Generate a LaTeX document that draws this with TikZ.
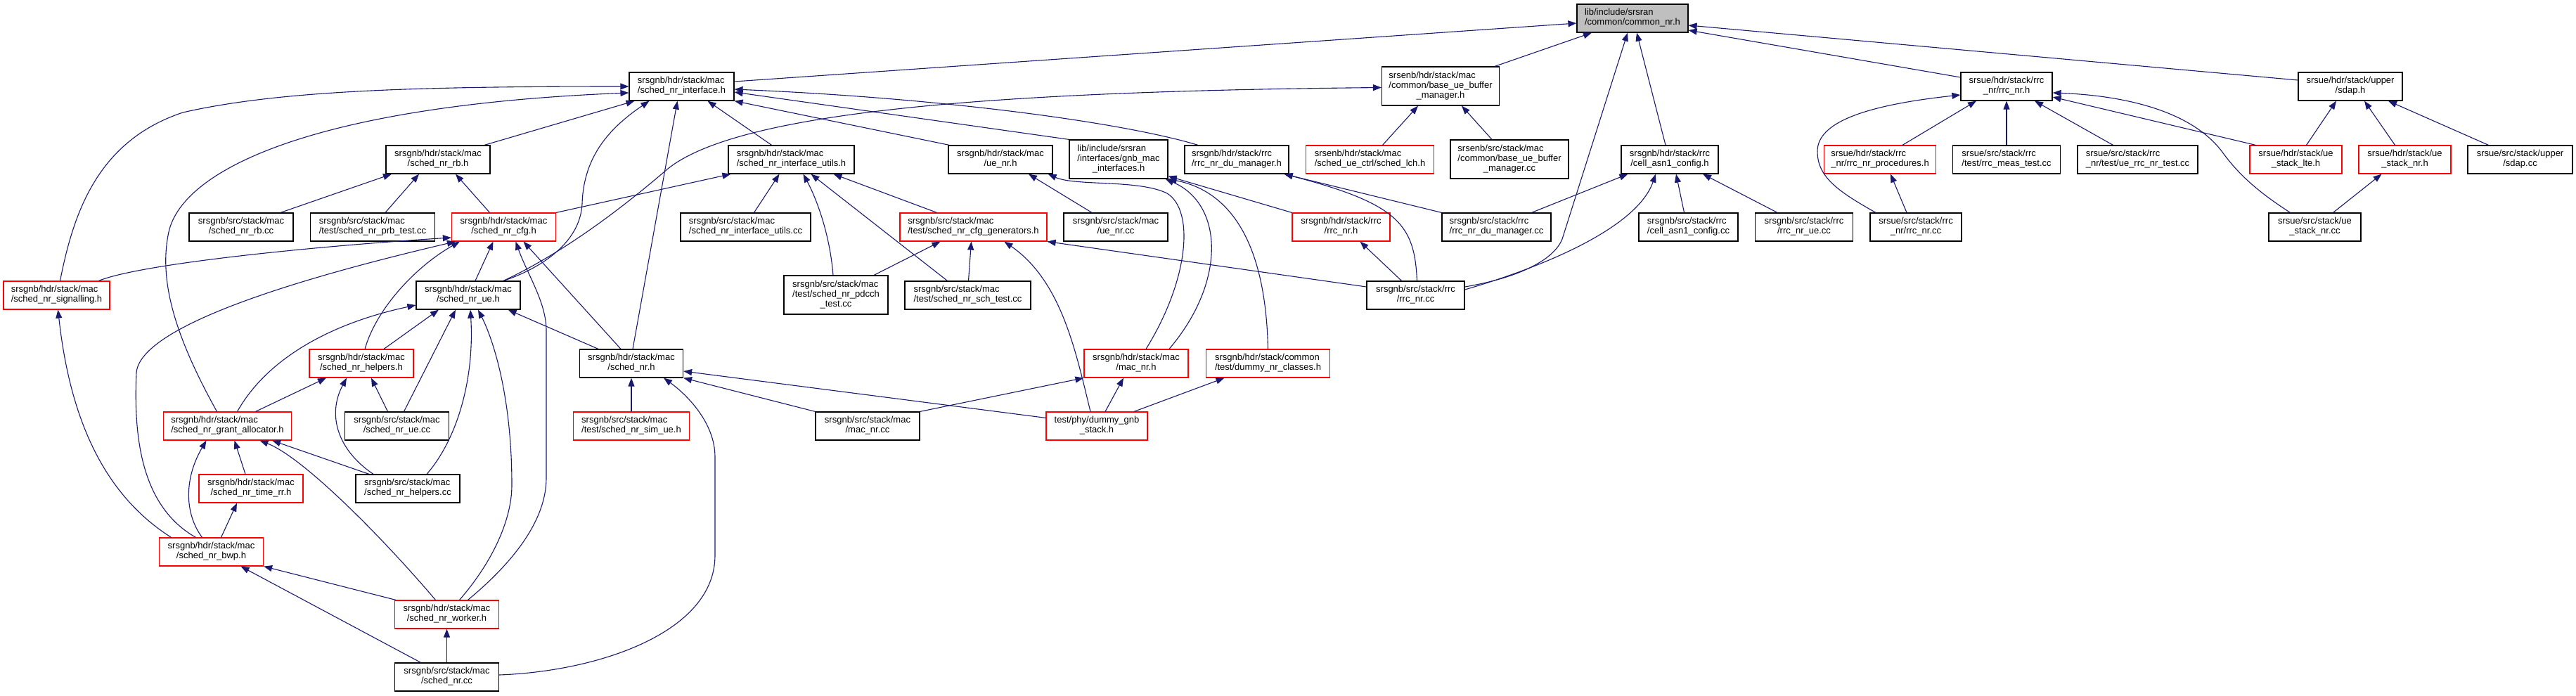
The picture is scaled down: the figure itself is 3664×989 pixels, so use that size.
\documentclass[tikz,border=0pt]{standalone}
\usepackage{fontspec}
\setmainfont{Liberation Sans}
\usetikzlibrary{arrows.meta}
\definecolor{edgec}{HTML}{191970}
\definecolor{rootf}{HTML}{BFBFBF}
\newcommand\twol[2]{\begin{tabular}{@{}l@{}}#1\\\multicolumn{1}{@{}c@{}}{#2}\end{tabular}}
\newcommand\threel[3]{\begin{tabular}{@{}l@{}}#1\\#2\\\multicolumn{1}{@{}c@{}}{#3}\end{tabular}}
\tikzset{
 nb/.style={draw=black, line width=1.2pt, fill=white, inner sep=0pt, minimum height=40pt, font=\fontsize{13}{14}\selectfont},
 nr/.style={nb, draw=red},
 nb3/.style={nb, minimum height=55pt},
 nroot/.style={nb, fill=rootf},
 arr/.style={draw=edgec, line width=1.1pt, -{Triangle[length=12pt,width=9pt]}},
}
\begin{document}
\begin{tikzpicture}[x=1pt,y=-1pt]
\useasboundingbox (0,0) rectangle (3664,989);
% row 0
\node[nroot, minimum width=158pt] (A) at (2322,26) {\twol{lib/include/srsran}{/common/common\_nr.h}};
% row 1
\node[nb, minimum width=149pt] (B) at (969.5,123) {\twol{srsgnb/hdr/stack/mac}{/sched\_nr\_interface.h}};
\node[nb3, minimum width=167pt] (C) at (2049,122.5) {\threel{srsenb/hdr/stack/mac}{/common/base\_ue\_buffer}{\_manager.h}};
\node[nb, minimum width=130pt] (D) at (2854,123) {\twol{srsue/hdr/stack/rrc}{\_nr/rrc\_nr.h}};
\node[nb, minimum width=148pt] (E) at (3343,123) {\twol{srsue/hdr/stack/upper}{/sdap.h}};
% row 2
\node[nb, minimum width=148pt] (F) at (623,227) {\twol{srsgnb/hdr/stack/mac}{/sched\_nr\_rb.h}};
\node[nb, minimum width=179pt] (G) at (1125.5,227) {\twol{srsgnb/hdr/stack/mac}{/sched\_nr\_interface\_utils.h}};
\node[nb, minimum width=148pt] (H) at (1423,227) {\twol{srsgnb/hdr/stack/mac}{/ue\_nr.h}};
\node[nb3, minimum width=140pt] (I) at (1591,226.5) {\threel{lib/include/srsran}{/interfaces/gnb\_mac}{\_interfaces.h}};
\node[nb, minimum width=148pt] (J) at (1759,227) {\twol{srsgnb/hdr/stack/rrc}{/rrc\_nr\_du\_manager.h}};
\node[nr, minimum width=182pt] (K) at (1948.5,227) {\twol{srsenb/hdr/stack/mac}{/sched\_ue\_ctrl/sched\_lch.h}};
\node[nb3, minimum width=168pt] (L) at (2147,226.5) {\threel{srsenb/src/stack/mac}{/common/base\_ue\_buffer}{\_manager.cc}};
\node[nb, minimum width=138pt] (M) at (2375,227) {\twol{srsgnb/hdr/stack/rrc}{/cell\_asn1\_config.h}};
\node[nr, minimum width=159pt] (N) at (2674,227) {\twol{srsue/hdr/stack/rrc}{\_nr/rrc\_nr\_procedures.h}};
\node[nb, minimum width=153pt] (O) at (2854,227) {\twol{srsue/src/stack/rrc}{/test/rrc\_meas\_test.cc}};
\node[nb, minimum width=171pt] (P) at (3040.5,227) {\twol{srsue/src/stack/rrc}{\_nr/test/ue\_rrc\_nr\_test.cc}};
\node[nr, minimum width=131pt] (Q) at (3265.5,227) {\twol{srsue/hdr/stack/ue}{\_stack\_lte.h}};
\node[nr, minimum width=131pt] (R) at (3420.5,227) {\twol{srsue/hdr/stack/ue}{\_stack\_nr.h}};
\node[nb, minimum width=149pt] (S) at (3584.5,227) {\twol{srsue/src/stack/upper}{/sdap.cc}};
% row 3
\node[nb, minimum width=148pt] (T) at (343,323) {\twol{srsgnb/src/stack/mac}{/sched\_nr\_rb.cc}};
\node[nb, minimum width=177pt] (U) at (530,323) {\twol{srsgnb/src/stack/mac}{/test/sched\_nr\_prb\_test.cc}};
\node[nr, minimum width=148pt] (V) at (716.5,323) {\twol{srsgnb/hdr/stack/mac}{/sched\_nr\_cfg.h}};
\node[nb, minimum width=185pt] (W) at (1060.5,323) {\twol{srsgnb/src/stack/mac}{/sched\_nr\_interface\_utils.cc}};
\node[nr, minimum width=209pt] (X) at (1384.5,323) {\twol{srsgnb/src/stack/mac}{/test/sched\_nr\_cfg\_generators.h}};
\node[nb, minimum width=148pt] (Y) at (1587,323) {\twol{srsgnb/src/stack/mac}{/ue\_nr.cc}};
\node[nr, minimum width=139pt] (Z) at (1907.5,323) {\twol{srsgnb/hdr/stack/rrc}{/rrc\_nr.h}};
\node[nb, minimum width=155pt] (AA) at (2128.5,323) {\twol{srsgnb/src/stack/rrc}{/rrc\_nr\_du\_manager.cc}};
\node[nb, minimum width=141pt] (AB) at (2401.5,323) {\twol{srsgnb/src/stack/rrc}{/cell\_asn1\_config.cc}};
\node[nb, minimum width=139pt] (AC) at (2566,323) {\twol{srsgnb/src/stack/rrc}{/rrc\_nr\_ue.cc}};
\node[nb, minimum width=130pt] (AD) at (2725,323) {\twol{srsue/src/stack/rrc}{\_nr/rrc\_nr.cc}};
\node[nb, minimum width=131pt] (AJ) at (3292.5,323) {\twol{srsue/src/stack/ue}{\_stack\_nr.cc}};
% row 4
\node[nr, minimum width=151pt] (AE) at (80.5,420) {\twol{srsgnb/hdr/stack/mac}{/sched\_nr\_signalling.h}};
\node[nb, minimum width=148pt] (AF) at (666,420) {\twol{srsgnb/hdr/stack/mac}{/sched\_nr\_ue.h}};
\node[nb3, minimum width=148pt] (AG) at (1189,419.5) {\threel{srsgnb/src/stack/mac}{/test/sched\_nr\_pdcch}{\_test.cc}};
\node[nb, minimum width=179pt] (AH) at (1376.5,420) {\twol{srsgnb/src/stack/mac}{/test/sched\_nr\_sch\_test.cc}};
\node[nb, minimum width=139pt] (AI) at (2013.5,420) {\twol{srsgnb/src/stack/rrc}{/rrc\_nr.cc}};
% row 5
\node[nr, minimum width=148pt] (AK) at (514,517) {\twol{srsgnb/hdr/stack/mac}{/sched\_nr\_helpers.h}};
\node[nb, minimum width=147pt] (AL) at (898,517) {\twol{srsgnb/hdr/stack/mac}{/sched\_nr.h}};
\node[nr, minimum width=148pt] (AM) at (1616,517) {\twol{srsgnb/hdr/stack/mac}{/mac\_nr.h}};
\node[nr, minimum width=176pt] (AN) at (1803.5,517) {\twol{srsgnb/hdr/stack/common}{/test/dummy\_nr\_classes.h}};
% row 6
\node[nr, minimum width=182pt] (AO) at (323.5,606) {\twol{srsgnb/hdr/stack/mac}{/sched\_nr\_grant\_allocator.h}};
\node[nb, minimum width=148pt] (AP) at (564.5,606) {\twol{srsgnb/src/stack/mac}{/sched\_nr\_ue.cc}};
\node[nr, minimum width=165pt] (AQ) at (898,606) {\twol{srsgnb/src/stack/mac}{/test/sched\_nr\_sim\_ue.h}};
\node[nb, minimum width=148pt] (AR) at (1234,606) {\twol{srsgnb/src/stack/mac}{/mac\_nr.cc}};
\node[nr, minimum width=144pt] (AS) at (1560,606) {\twol{test/phy/dummy\_gnb}{\_stack.h}};
% rows 7-10
\node[nr, minimum width=148pt] (AT) at (357,695) {\twol{srsgnb/hdr/stack/mac}{/sched\_nr\_time\_rr.h}};
\node[nb, minimum width=148pt] (AU) at (580,695) {\twol{srsgnb/src/stack/mac}{/sched\_nr\_helpers.cc}};
\node[nr, minimum width=148pt] (AV) at (300.5,785) {\twol{srsgnb/hdr/stack/mac}{/sched\_nr\_bwp.h}};
\node[nr, minimum width=148pt] (AW) at (635.5,874) {\twol{srsgnb/hdr/stack/mac}{/sched\_nr\_worker.h}};
\node[nb, minimum width=148pt] (AX) at (635.5,963) {\twol{srsgnb/src/stack/mac}{/sched\_nr.cc}};

% ---- edges into A
\draw[arr] ([yshift=7pt]B.east) -- ([yshift=-7pt]A.west);
\draw[arr] ([xshift=77pt]C.north) -- ([xshift=-58pt]A.south);
\draw[arr] ([yshift=12pt]AI.east) .. controls (2160,395) and (2210,370) .. (2222,340) -- ([xshift=-7pt]A.south);
\draw[arr] ([xshift=-6pt]M.north) -- ([xshift=6pt]A.south);
\draw[arr] ([yshift=13pt]D.west) -- ([yshift=-17pt]A.east);
\draw[arr] ([yshift=9pt]E.west) -- ([yshift=-10pt]A.east);
% ---- edges into B
\draw[arr] ([xshift=5pt]AE.north) .. controls (105,300) and (140,200) .. (260,160) .. controls (400,128) and (600,123) .. (B.west);
\draw[arr] ([xshift=-15pt]AO.north) .. controls (250,480) and (225,400) .. (240,330) .. controls (260,240) and (450,150) .. ([yshift=-9pt]B.west);
\draw[arr] ([xshift=66pt]F.north) -- ([xshift=-67pt]B.south);
\draw[arr] ([xshift=50pt]AF.north) .. controls (760,385) and (825,350) .. (828,290) .. controls (830,220) and (870,180) .. ([xshift=-46pt]B.south);
\draw[arr] ([xshift=2pt]AL.north) -- ([xshift=-6pt]B.south);
\draw[arr] ([xshift=-28pt]G.north) -- ([xshift=37pt]B.south);
\draw[arr] ([xshift=2pt]H.north west) -- (B.south east);
\draw[arr] (I.north west) -- ([yshift=-8pt]B.east);
\draw[arr] ([xshift=-55pt]J.north) .. controls (1600,175) and (1350,140) .. ([yshift=-4pt]B.east);
% ---- into C
\draw[arr] ([xshift=50pt]AF.north) .. controls (800,360) and (880,300) .. (950,240) .. controls (1050,160) and (1400,130) .. ([yshift=-2pt]C.west);
\draw[arr] ([xshift=18pt]K.north) -- ([xshift=-32pt]C.south);
\draw[arr] ([xshift=-25pt]L.north) -- ([xshift=30pt]C.south);
% ---- into D
\draw[arr] ([xshift=32pt]N.north) -- ([xshift=-43pt]D.south);
\draw[arr] (O.north) -- (D.south);
\draw[arr] ([xshift=-35pt]P.north) -- ([xshift=40pt]D.south);
\draw[arr] ([xshift=9pt]Q.north west) -- ([yshift=-15pt]D.east);
\draw[arr] ([xshift=-35pt]AJ.north) .. controls (3215,275) and (3185,250) .. (3160,215) .. controls (3110,150) and (3000,135) .. ([yshift=-9pt]D.east);
\draw[arr] ([xshift=-57pt]AD.north) .. controls (2610,270) and (2585,250) .. (2585,215) .. controls (2585,175) and (2650,150) .. ([yshift=-12pt]D.west);
% ---- into E
\draw[arr] ([xshift=15pt]Q.north) -- ([xshift=-20pt]E.south);
\draw[arr] ([xshift=-14pt]R.north) -- ([xshift=20pt]E.south);
\draw[arr] ([xshift=-45pt]S.north) -- ([xshift=54pt]E.south);
% ---- into F
\draw[arr] ([xshift=56pt]T.north) -- ([xshift=-66pt]F.south);
\draw[arr] ([xshift=18pt]U.north) -- ([xshift=-27pt]F.south);
\draw[arr] ([xshift=-20pt]V.north) -- ([xshift=25pt]F.south);
% ---- into G
\draw[arr] (V.north east) -- ([xshift=4pt]G.south west);
\draw[arr] ([xshift=12pt]W.north) -- ([xshift=-17pt]G.south);
\draw[arr] ([xshift=-4pt]AG.north) .. controls (1180,330) and (1160,280) .. ([xshift=17pt]G.south);
\draw[arr] ([xshift=-29pt]AH.north) -- ([xshift=28pt]G.south);
\draw[arr] ([xshift=-52pt]X.north) -- ([xshift=60pt]G.south);
% ---- into H, I, J
\draw[arr] ([xshift=-34pt]Y.north) -- ([xshift=40pt]H.south);
\draw[arr] ([xshift=14pt]AM.north) .. controls (1690,400) and (1700,300) .. (1660,275) .. controls (1620,255) and (1530,265) .. ([xshift=-7pt]H.south east);
\draw[arr] ([xshift=47pt]AM.north) .. controls (1745,400) and (1740,290) .. ([xshift=-4pt]I.south east);
\draw[arr] (AN.north) .. controls (1800,330) and (1740,270) .. (I.south east);
\draw[arr] (Z.north west) -- ([yshift=4pt]I.south east);
\draw[arr] (AA.north west) -- ([xshift=-7pt]J.south east);
\draw[arr] ([xshift=2pt]AI.north) .. controls (2012,320) and (1990,290) .. ([xshift=-7pt]J.south east);
% ---- into M, N, R, Z
\draw[arr] ([xshift=50pt]AA.north) -- ([xshift=10pt]M.south west);
\draw[arr] ([xshift=-6pt]AB.north) -- ([xshift=9pt]M.south);
\draw[arr] ([xshift=-38pt]AC.north) -- ([xshift=47pt]M.south);
\draw[arr] ([yshift=8pt]AI.east) .. controls (2210,375) and (2330,320) .. ([xshift=-20pt]M.south);
\draw[arr] ([xshift=-13pt]AD.north) -- ([xshift=15pt]N.south);
\draw[arr] ([xshift=26pt]AJ.north) -- ([xshift=-33pt]R.south);
\draw[arr] ([xshift=-20pt]AI.north) -- ([xshift=27pt]Z.south);
% ---- into V
\draw[arr] ([xshift=60pt]AE.north) .. controls (200,375) and (450,350) .. ([yshift=-15pt]V.west);
\draw[arr] ([xshift=-22pt]AV.north) .. controls (200,720) and (190,620) .. (194,530) .. controls (200,460) and (450,390) .. ([xshift=6pt]V.south west);
\draw[arr] ([xshift=5pt]AK.north) .. controls (535,440) and (590,380) .. ([xshift=12pt]V.south west);
\draw[arr] ([xshift=10pt]AF.north) -- ([xshift=-15pt]V.south);
\draw[arr] ([xshift=-15pt]AL.north) -- ([xshift=28pt]V.south);
\draw[arr] ([xshift=30pt]AW.north) .. controls (730,800) and (777,740) .. (777,680) -- (777,470) .. controls (777,430) and (750,390) .. ([xshift=17pt]V.south);
% ---- into X
\draw[arr] ([xshift=54pt]AG.north) -- ([xshift=-47pt]X.south);
\draw[arr] ([xshift=1pt]AH.north) -- ([xshift=-3pt]X.south);
\draw[arr] ([xshift=-9pt]AS.north) .. controls (1530,500) and (1510,400) .. ([xshift=44pt]X.south);
\draw[arr] ([yshift=12pt]AI.west) -- (X.south east);
% ---- into AE, AF
\draw[arr] ([xshift=-57pt]AV.north) .. controls (150,705) and (100,600) .. ([xshift=2pt]AE.south);
\draw[arr] ([xshift=18pt]AW.north) .. controls (700,800) and (728,740) .. (728,690) .. controls (728,560) and (700,480) .. ([xshift=14pt]AF.south);
\draw[arr] ([xshift=27pt]AU.north) .. controls (650,625) and (675,540) .. ([xshift=3pt]AF.south);
\draw[arr] ([xshift=10pt]AP.north) -- ([xshift=-18pt]AF.south);
\draw[arr] ([xshift=32pt]AK.north) -- ([xshift=-42pt]AF.south);
\draw[arr] ([xshift=14pt]AO.north) .. controls (380,510) and (470,460) .. ([yshift=-14pt]AF.west);
\draw[arr] ([xshift=-47pt]AL.north) -- ([xshift=-18pt]AF.south east);
% ---- into AK
\draw[arr] ([xshift=40pt]AO.north) -- ([xshift=-50pt]AK.south);
\draw[arr] ([xshift=-49pt]AU.north) .. controls (480,640) and (465,590) .. ([xshift=-21pt]AK.south);
\draw[arr] ([xshift=-13pt]AP.north) -- ([xshift=14pt]AK.south);
% ---- into AO
\draw[arr] ([xshift=-13pt]AV.north) .. controls (262,730) and (262,680) .. ([xshift=-30pt]AO.south);
\draw[arr] ([xshift=-8pt]AT.north) -- ([xshift=10pt]AO.south);
\draw[arr] ([xshift=-16pt]AW.north) .. controls (540,760) and (430,650) .. ([xshift=46pt]AO.south);
\draw[arr] ([xshift=-55pt]AU.north) -- ([xshift=-28pt]AO.south east);
% ---- lower
\draw[arr] ([xshift=14pt]AV.north) -- ([xshift=-20pt]AT.south);
\draw[arr] ([xshift=2pt]AW.north west) -- (AV.south east);
\draw[arr] ([xshift=-37pt]AX.north) -- ([xshift=42pt]AV.south);
\draw[arr] (AX.north) -- (AW.south);
\draw[arr] ([yshift=3pt]AX.east) .. controls (850,955) and (1017,900) .. (1017,790) -- (1017,650) .. controls (1017,600) and (975,560) .. ([xshift=46pt]AL.south);
% ---- into AL, AM, AN
\draw[arr] (AQ.north) -- (AL.south);
\draw[arr] (AR.north west) -- (AL.south east);
\draw[arr] ([yshift=-9pt]AS.north west) -- ([yshift=-11pt]AL.east);
\draw[arr] (AR.north east) -- (AM.south west);
\draw[arr] ([xshift=12pt]AS.north) -- ([xshift=-18pt]AM.south);
\draw[arr] ([xshift=53pt]AS.north) -- ([xshift=-62pt]AN.south);
\end{tikzpicture}
\end{document}
